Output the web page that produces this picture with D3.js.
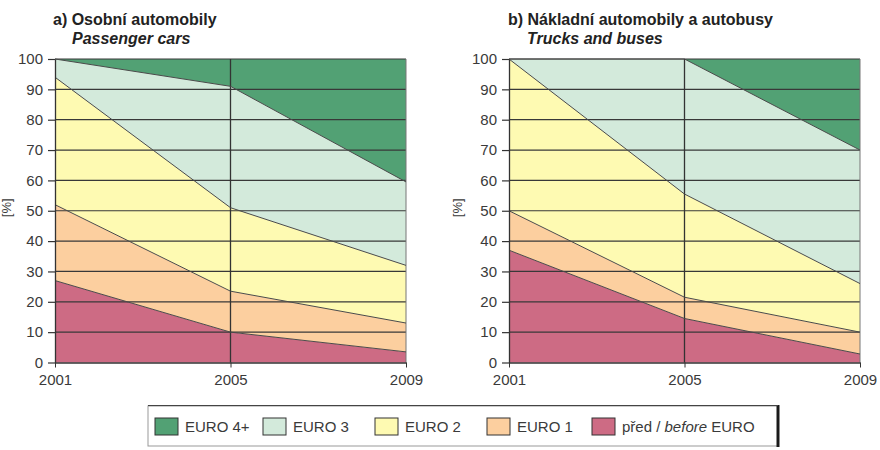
<!DOCTYPE html>
<html>
<head>
<meta charset="utf-8">
<script src="https://cdn.jsdelivr.net/npm/d3@7"></script>
<style>
  html, body { margin: 0; padding: 0; background: #fff; }
  svg { display: block; font-family: "Liberation Sans", Arial, sans-serif; }
</style>
</head>
<body>
<svg id="chart" width="880" height="450"></svg>
<script>
// Years on the horizontal axis
const years = [2001, 2005, 2009];

// Emission classes, bottom to top of the stack
const seriesKeys = ["before", "euro1", "euro2", "euro3", "euro4"];
const seriesLabels = ["EURO 4+", "EURO 3", "EURO 2", "EURO 1", "před / before EURO"];
const seriesColors = {
  before: "#cd6b84",
  euro1: "#fccf9f",
  euro2: "#fefab2",
  euro3: "#d3eadb",
  euro4: "#52a174"
};

// a) Passenger cars – share of fleet [%]
const carsBefore = [27, 10, 3.5];
const carsEuro1  = [25, 13.5, 9.5];
const carsEuro2  = [42, 27.5, 19];
const carsEuro3  = [6, 40, 27.5];
const carsEuro4  = [0, 9, 40.5];

// b) Trucks and buses – share of fleet [%]
const trucksBefore = [37, 14.5, 2.8];
const trucksEuro1  = [13, 7, 7.2];
const trucksEuro2  = [50, 34, 16];
const trucksEuro3  = [0, 44.5, 44];
const trucksEuro4  = [0, 0, 30];

const yTicks = [0, 10, 20, 30, 40, 50, 60, 70, 80, 90, 100];

function buildRows(before, e1, e2, e3, e4) {
  return years.map((y, i) => ({
    year: y, before: before[i], euro1: e1[i], euro2: e2[i], euro3: e3[i], euro4: e4[i]
  }));
}

const panels = [
  {
    title: "a) Osobní automobily", subtitle: "Passenger cars",
    rows: buildRows(carsBefore, carsEuro1, carsEuro2, carsEuro3, carsEuro4),
    x0: 55, x1: 406, titleX: 53, subX: 72, unitX: 11
  },
  {
    title: "b) Nákladní automobily a autobusy", subtitle: "Trucks and buses",
    rows: buildRows(trucksBefore, trucksEuro1, trucksEuro2, trucksEuro3, trucksEuro4),
    x0: 509, x1: 860, titleX: 508, subX: 527, unitX: 462
  }
];

const svg = d3.select("#chart");
const yTop = 59, yBottom = 362.5;
const textColor = "#3a3a3a";
const fontFamily = "'Liberation Sans', Arial, sans-serif";

const stack = d3.stack().keys(seriesKeys);

panels.forEach(p => {
  const x = d3.scaleLinear().domain([2001, 2009]).range([p.x0, p.x1]);
  const y = d3.scaleLinear().domain([0, 100]).range([yBottom, yTop]);
  const g = svg.append("g");

  // stacked areas
  const layers = stack(p.rows);
  const area = d3.area()
    .x(d => x(d.data.year))
    .y0(d => y(d[0]))
    .y1(d => y(d[1]));
  const topLine = d3.line()
    .x(d => x(d.data.year))
    .y(d => y(d[1]));

  g.selectAll("path.area").data(layers).join("path")
    .attr("class", "area")
    .attr("d", area)
    .attr("fill", d => seriesColors[d.key]);

  // horizontal grid lines
  g.selectAll("line.grid").data(yTicks.filter(t => t > 0)).join("line")
    .attr("class", "grid")
    .attr("x1", x(2001)).attr("x2", x(2009))
    .attr("y1", d => y(d)).attr("y2", d => y(d))
    .attr("stroke", "#383838").attr("stroke-width", 1.2);

  // vertical line at the middle year, right frame
  g.append("line")
    .attr("x1", x(2005)).attr("x2", x(2005))
    .attr("y1", y(100)).attr("y2", y(0))
    .attr("stroke", "#333").attr("stroke-width", 1.3);
  g.append("line")
    .attr("x1", x(2009)).attr("x2", x(2009))
    .attr("y1", y(100)).attr("y2", y(0))
    .attr("stroke", "#777").attr("stroke-width", 1);

  // boundary lines between classes
  g.selectAll("path.edge").data(layers.slice(0, -1)).join("path")
    .attr("class", "edge")
    .attr("d", topLine)
    .attr("fill", "none")
    .attr("stroke", "#4a4a4a")
    .attr("stroke-width", 1);

  // y axis
  const yAxis = d3.axisLeft(y).tickValues(yTicks).tickSize(7).tickSizeOuter(0).tickPadding(5);
  const ya = g.append("g").attr("transform", `translate(${x(2001)},0)`).call(yAxis);
  ya.select(".domain").attr("stroke", "#333").attr("stroke-width", 1.3);
  ya.selectAll(".tick line").attr("stroke", "#333").attr("stroke-width", 1.2);
  ya.selectAll(".tick text").attr("fill", textColor).style("font-size", "15px")
    .style("font-family", fontFamily);

  // x axis
  const xAxis = d3.axisBottom(x).tickValues(years).tickFormat(d3.format("d"))
    .tickSize(5).tickSizeOuter(0).tickPadding(7);
  const xa = g.append("g").attr("transform", `translate(0,${yBottom})`).call(xAxis);
  xa.select(".domain").attr("stroke", "#333").attr("stroke-width", 1.3);
  xa.selectAll(".tick line").attr("stroke", "#333");
  xa.selectAll(".tick text").attr("fill", textColor).style("font-size", "15px")
    .style("font-family", fontFamily);

  // axis unit
  g.append("text")
    .attr("transform", `translate(${p.unitX},${(yTop + yBottom) / 2 - 3}) rotate(-90)`)
    .attr("text-anchor", "middle")
    .attr("fill", textColor)
    .style("font-size", "13px")
    .text("[%]");

  // titles
  g.append("text")
    .attr("x", p.titleX).attr("y", 25)
    .attr("fill", "#222")
    .style("font-size", "16px").style("font-weight", "bold")
    .text(p.title);
  g.append("text")
    .attr("x", p.subX).attr("y", 44)
    .attr("fill", "#222")
    .style("font-size", "16px").style("font-weight", "bold").style("font-style", "italic")
    .text(p.subtitle);
});

// legend
const legend = svg.append("g");
legend.append("rect")
  .attr("x", 148).attr("y", 406).attr("width", 630).attr("height", 40)
  .attr("fill", "#fff").attr("stroke", "#999").attr("stroke-width", 1);
legend.append("line")
  .attr("x1", 778).attr("x2", 778).attr("y1", 405).attr("y2", 447)
  .attr("stroke", "#1a1a1a").attr("stroke-width", 3);
legend.append("line")
  .attr("x1", 148).attr("x2", 778).attr("y1", 405.5).attr("y2", 405.5)
  .attr("stroke", "#444").attr("stroke-width", 1);

const legendOrder = ["euro4", "euro3", "euro2", "euro1", "before"];
const legendX = [155, 263, 375, 487, 592];
legendOrder.forEach((k, i) => {
  const item = legend.append("g").attr("transform", `translate(${legendX[i]},418)`);
  item.append("rect")
    .attr("width", 23).attr("height", 17)
    .attr("fill", seriesColors[k]).attr("stroke", "#333").attr("stroke-width", 1);
  const t = item.append("text")
    .attr("x", 30).attr("y", 14)
    .attr("fill", textColor)
    .style("font-size", "15px");
  if (k === "before") {
    t.append("tspan").text("před / ");
    t.append("tspan").style("font-style", "italic").text("before");
    t.append("tspan").text(" EURO");
  } else {
    t.text(seriesLabels[i]);
  }
});
</script>
</body>
</html>
